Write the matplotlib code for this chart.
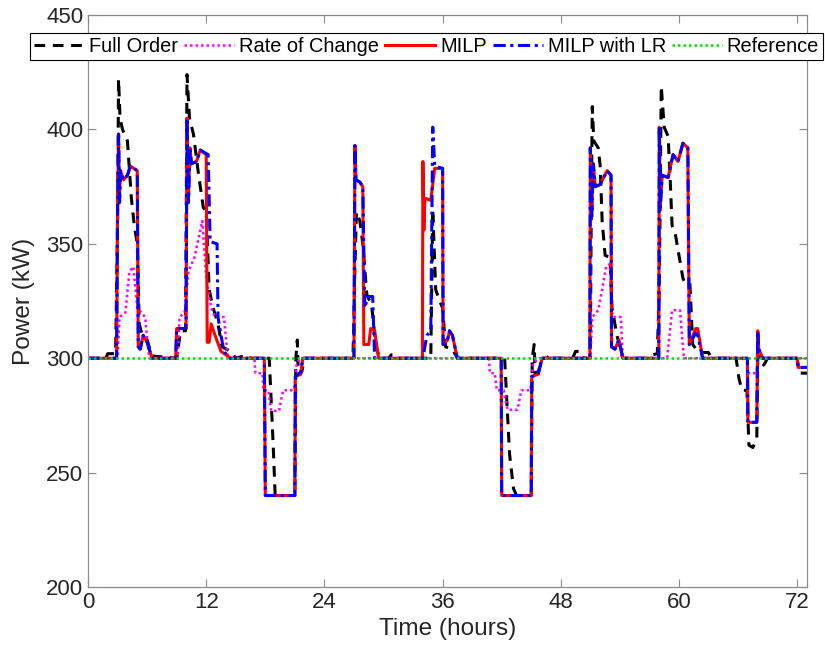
import matplotlib
matplotlib.use('Agg')
import matplotlib.pyplot as plt

plt.rcParams['font.family'] = ['Liberation Sans', 'DejaVu Sans']

# Full Order
t_full = [0, 1.8, 2.0, 2.8, 3.0, 3.1, 3.25, 3.5, 4.0, 4.4, 4.7, 5.0, 5.2, 5.5, 6.0, 6.5,
          9.0, 9.4, 9.9, 10.05, 10.3, 10.7, 11.2, 11.7, 12.0, 12.3, 12.7, 13.2, 13.6, 14.5, 15.0,
          15.8, 16.2, 16.5, 18.4, 18.8, 19.0, 21.0, 21.1, 21.25, 21.35, 21.7, 22.0,
          26.9, 27.1, 27.25, 27.6, 27.9, 28.3, 28.8, 29.2, 29.6, 30.5, 30.8, 31.3, 31.6,
          34.8, 35.0, 35.3, 35.7, 36.0, 36.3, 37.0, 37.5,
          42.3, 42.8, 43.2, 43.5, 45.0, 45.1, 45.3, 45.4, 45.7, 46.1, 46.6, 46.9, 47.2,
          49.2, 49.5, 50.0, 50.3, 51.0, 51.1, 51.2, 51.35, 51.8, 52.0, 52.2, 52.5, 53.0,
          53.2, 53.7, 54.3, 57.0, 57.3, 57.8, 58.0, 58.2, 58.5, 58.9, 59.1, 59.3, 59.6,
          60.0, 60.4, 60.6, 61.1, 61.4, 62.0, 63.0, 63.3,
          65.8, 66.1, 66.4, 66.9, 67.1, 67.5, 67.9, 68.0, 68.3, 68.6, 69.0, 72.0, 72.2, 73.0]
p_full = [300, 300, 302, 302, 360, 422, 405, 400, 395, 370, 358, 350, 315, 310, 308, 301,
          300, 312, 312, 424, 405, 398, 381, 366, 364, 330, 322, 315, 305, 303, 300,
          301, 301.5, 300, 300, 262, 240, 240, 300, 308, 293, 294, 300,
          300, 340, 364, 360, 350, 328, 323, 306, 300, 300, 301.5, 301.5, 300,
          300, 365, 330, 325, 322, 305, 304, 300,
          300, 258, 243, 240, 240, 300, 306, 293, 294, 300, 300, 301.5, 300,
          300, 303, 303, 300, 300, 370, 410, 395, 392, 384, 360, 345, 344,
          322, 310, 300, 300, 301.5, 302, 330, 419, 401, 397, 379, 358, 355,
          345, 335, 333, 333, 306, 302.5, 302.5, 300,
          300, 291, 286, 286, 262, 261, 265, 300, 301, 297, 300, 300, 293.5, 293.5]

# Rate of Change
t_roc = [0, 3.0, 3.2, 3.8, 4.2, 4.6, 5.0, 5.8, 6.2,
         9.1, 9.3, 9.8, 10.2, 10.8, 11.2, 11.6, 12.0, 12.5, 12.9, 13.8, 14.2,
         16.9, 17.0, 17.7, 17.8, 18.3, 18.6, 19.4, 19.8, 20.9, 21.2, 21.6,
         40.7, 40.8, 41.3, 41.5, 42.2, 42.6, 43.6, 44.0, 44.9, 45.2, 45.8,
         51.0, 51.2, 51.8, 52.2, 52.6, 53.0, 53.2, 53.3, 54.1, 54.3,
         58.8, 59.3, 60.1, 60.5, 66.9, 67.0, 67.9, 68.0, 73.0]
p_roc = [300, 300, 318, 320, 338, 340, 322, 318, 300,
         300, 318, 320, 338, 344, 352, 360, 335, 322, 318, 318, 300,
         300, 293.5, 293.5, 286, 286, 277, 277, 286, 286, 298, 300,
         300, 293.5, 293.5, 286, 286, 277.5, 277.5, 286, 286, 298, 300,
         300, 318, 321, 330, 340, 341, 320, 318, 318, 300,
         300, 321, 321, 300, 300, 293.5, 293.5, 300, 300]

# MILP
t_milp = [0, 2.9, 3.0, 3.1, 3.2, 3.3, 3.6, 4.0, 4.3, 5.0, 5.1, 5.3, 5.6, 6.0, 6.5,
          8.9, 9.0, 9.95, 10.05, 10.2, 10.35, 10.5, 11.0, 11.4, 12.0, 12.1, 12.3, 12.5, 12.9, 13.5, 14.5,
          17.9, 18.0, 21.0, 21.05, 21.6, 21.8,
          27.0, 27.1, 27.2, 27.6, 27.9, 28.0, 28.5, 28.7, 29.1, 29.5,
          33.95, 34.0, 34.1, 34.2, 34.8, 35.2, 36.0, 36.05, 36.5, 36.7, 37.0, 37.5,
          41.95, 42.0, 45.0, 45.05, 45.7, 46.1,
          50.95, 51.0, 51.15, 51.3, 51.5, 52.0, 52.7, 53.1, 53.15, 53.5, 53.9, 54.3,
          57.95, 58.0, 58.1, 58.3, 58.9, 59.4, 59.9, 60.4, 60.9, 61.05, 61.7, 61.9, 62.4,
          66.95, 67.0, 67.9, 68.0, 68.1, 68.5, 72.0, 72.1, 73.0]
p_milp = [300, 300, 365, 398, 370, 382, 378, 380, 384, 382, 305, 304, 310, 307, 300,
          300, 313, 313, 405, 370, 392, 385, 386, 391, 389, 307, 307, 315, 310, 303, 300,
          300, 240, 240, 292, 293, 300,
          300, 393, 378, 377, 375, 306, 306, 313, 312, 300,
          300, 386, 356, 370, 369, 383, 383, 306, 308, 312, 310, 300,
          300, 240, 240, 292, 293, 300,
          300, 392, 365, 385, 375, 376, 382, 380, 305, 304, 308, 300,
          300, 401, 366, 380, 379, 389, 386, 394, 392, 306, 313, 313, 300,
          300, 272, 272, 312, 304, 300, 300, 296, 296]

# MILP with LR
t_lr = [0, 2.9, 3.0, 3.1, 3.2, 3.3, 3.6, 4.0, 4.3, 5.0, 5.1, 5.3, 5.6, 6.0, 6.5,
        8.9, 9.0, 9.95, 10.05, 10.2, 10.35, 10.5, 11.0, 11.4, 12.2, 12.4, 13.1, 13.2, 13.5, 13.8, 14.4,
        17.9, 18.0, 21.0, 21.05, 21.6, 21.8,
        27.0, 27.1, 27.2, 27.6, 27.9, 28.1, 28.4, 28.9, 29.1,
        34.0, 34.4, 34.8, 35.0, 35.2, 36.0, 36.05, 36.5, 36.7, 37.0, 37.5,
        41.95, 42.0, 45.0, 45.05, 45.7, 46.1,
        50.95, 51.0, 51.15, 51.3, 51.5, 52.0, 52.7, 53.1, 53.15, 53.5, 53.9, 54.3,
        57.95, 58.0, 58.1, 58.3, 58.9, 59.4, 59.9, 60.4, 60.9, 61.05, 61.7, 61.9, 62.4,
        66.95, 67.0, 67.9, 68.0, 68.1, 68.5, 72.0, 72.1, 73.0]
p_lr = [300, 300, 365, 398, 368, 382, 378, 380, 384, 382, 305, 304, 310, 307, 300,
        300, 313, 313, 405, 368, 392, 385, 386, 391, 389, 351, 350, 318, 310, 303, 300,
        300, 240, 240, 292, 294, 300,
        300, 393, 378, 377, 375, 322, 327, 327, 300,
        300, 310, 312, 401, 384, 383, 306, 308, 312, 310, 300,
        300, 240, 240, 292, 293, 300,
        300, 392, 362, 385, 375, 376, 382, 380, 305, 304, 308, 300,
        300, 401, 366, 380, 379, 389, 386, 394, 392, 306, 311, 310, 300,
        300, 272, 272, 312, 304, 300, 300, 296, 296]

# Reference
t_ref = [0, 73]
p_ref = [300, 300]

x_ticks = [0, 12, 24, 36, 48, 60, 72]
y_ticks = [200, 250, 300, 350, 400, 450]

fig = plt.figure(figsize=(8.25, 6.57), dpi=100)
ax = fig.add_axes([0.1067, 0.1065, 0.8715, 0.8705])

ax.plot(t_full, p_full, color='black', lw=2.2, linestyle=(0, (3.5, 2.5)), label='Full Order')
ax.plot(t_roc, p_roc, color='#ff00ff', lw=1.8, linestyle=(0, (1, 1.2)), label='Rate of Change')
ax.plot(t_milp, p_milp, color='red', lw=2.2, label='MILP')
ax.plot(t_lr, p_lr, color='blue', lw=2.2, linestyle=(0, (4, 1.5, 1, 1.5)), label='MILP with LR')
ax.plot(t_ref, p_ref, color='#00e000', lw=1.8, linestyle=(0, (1, 1.2)), label='Reference')

ax.set_xlim(0, 73)
ax.set_ylim(200, 450)
ax.set_xticks(x_ticks)
ax.set_yticks(y_ticks)
ax.tick_params(direction='in', top=True, right=True, length=6, width=0.8,
               labelsize=16, colors='#8c8c8c', labelcolor='#262626')
for s in ax.spines.values():
    s.set_color('#8c8c8c')
    s.set_linewidth(0.9)

ax.set_xlabel('Time (hours)', fontsize=17.6, color='#262626', labelpad=4)
ax.set_ylabel('Power (kW)', fontsize=17.6, color='#262626', labelpad=8)

leg = ax.legend(loc='upper left', bbox_to_anchor=(30 / 825, 1 - 33 / 657),
                bbox_transform=fig.transFigure, ncol=5, fontsize=14.4,
                handlelength=2.5, handletextpad=0.25, columnspacing=0.3,
                borderpad=0.2, borderaxespad=0, fancybox=False, framealpha=1)
leg.get_frame().set_edgecolor('black')
leg.get_frame().set_linewidth(0.8)

fig.savefig('out.png', dpi=100)
